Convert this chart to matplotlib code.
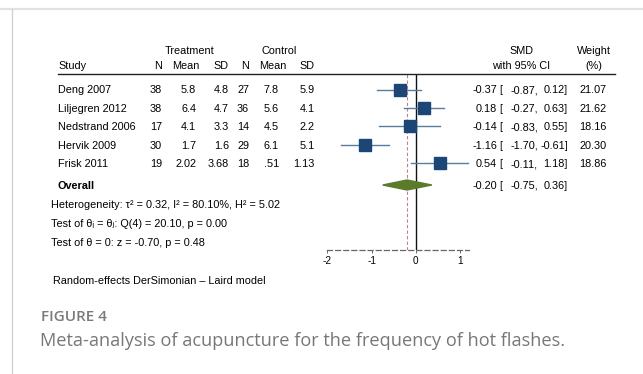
import numpy as np
import matplotlib
matplotlib.use("Agg")
import matplotlib.pyplot as plt
from matplotlib.patches import Polygon

plt.rcParams['font.family'] = ['Liberation Sans', 'DejaVu Sans']

# data
studies = ["Deng 2007", "Liljegren 2012", "Nedstrand 2006", "Hervik 2009", "Frisk 2011"]
t_n = ["38", "38", "17", "30", "19"]
t_mean = ["5.8", "6.4", "4.1", "1.7", "2.02"]
t_sd = ["4.8", "4.7", "3.3", "1.6", "3.68"]
c_n = ["27", "36", "14", "29", "18"]
c_mean = ["7.8", "5.6", "4.5", "6.1", ".51"]
c_sd = ["5.9", "4.1", "2.2", "5.1", "1.13"]
smd = [-0.37, 0.18, -0.14, -1.16, 0.54]
lo = [-0.87, -0.27, -0.83, -1.70, -0.11]
hi = [0.12, 0.63, 0.55, -0.61, 1.18]
weight = [21.07, 21.62, 18.16, 20.30, 18.86]
overall = (-0.20, -0.75, 0.36)
xticks = [-2, -1, 0, 1]

W, H = 643, 374
fig = plt.figure(figsize=(W / 100, H / 100), dpi=100)
fig.patch.set_facecolor("white")

def txt(x, y, s, **kw):
    # y is the visual centre of capitals; draw on the baseline so glyphs line up
    fs = kw.setdefault("fontsize", 7.8)
    kw.setdefault("va", "baseline")
    if kw["va"] == "baseline":
        y = y + fs * 100 / 72 * 0.716 / 2
    return fig.text(x / W, 1 - y / H, s, **kw)

# card frame
fig.add_artist(plt.Line2D([0, 1], [1 - 9 / H, 1 - 9 / H], color="#e2e2e2", lw=1.6))
fig.add_artist(plt.Line2D([12 / W, 12 / W], [0, 1 - 9 / H], color="#cfcfcf", lw=0.9))

# header
txt(190, 50, "Treatment", ha="center")
txt(279, 50, "Control", ha="center")
txt(58, 65, "Study", ha="left")
txt(162, 65, "N", ha="right")
txt(186, 65, "Mean", ha="center")
txt(228, 65, "SD", ha="right")
txt(249, 65, "N", ha="right")
txt(273, 65, "Mean", ha="center")
txt(314, 65, "SD", ha="right")
txt(521, 50, "SMD", ha="center")
txt(521, 65, "with 95% CI", ha="center")
txt(594, 50, "Weight", ha="center")
txt(594, 65, "(%)", ha="center")
fig.add_artist(plt.Line2D([58 / W, 615 / W], [1 - 74 / H, 1 - 74 / H], color="#222222", lw=1.0))

row_y = [89.5 + i * 18.45 for i in range(len(studies))]
for i, y in enumerate(row_y):
    txt(58, y, studies[i], ha="left")
    txt(162, y, t_n[i], ha="right")
    txt(196, y, t_mean[i], ha="right")
    txt(229, y, t_sd[i], ha="right")
    txt(249, y, c_n[i], ha="right")
    txt(279, y, c_mean[i], ha="right")
    txt(315, y, c_sd[i], ha="right")
    txt(497, y, f"{smd[i]:.2f}", ha="right")
    txt(499, y, "[", ha="left")
    txt(538, y, f"{lo[i]:.2f},", ha="right")
    txt(568, y, f"{hi[i]:.2f}]", ha="right")
    txt(607, y, f"{weight[i]:.2f}", ha="right")

oy = 185
txt(58, oy, "Overall", ha="left", fontweight="bold")
txt(497, oy, f"{overall[0]:.2f}", ha="right")
txt(499, oy, "[", ha="left")
txt(538, oy, f"{overall[1]:.2f},", ha="right")
txt(568, oy, f"{overall[2]:.2f}]", ha="right")

txt(51, 204, "Heterogeneity: \u03c4\u00b2 = 0.32, I\u00b2 = 80.10%, H\u00b2 = 5.02", ha="left")
txt(51, 223, "Test of \u03b8\u1d62 = \u03b8\u2c7c: Q(4) = 20.10, p = 0.00", ha="left")
txt(51, 242, "Test of \u03b8 = 0: z = -0.70, p = 0.48", ha="left")
txt(53, 280, "Random-effects DerSimonian \u2013 Laird model", ha="left")

txt(41, 316, "FIGURE 4", ha="left", fontsize=11, color="#7a7a7a", fontweight="semibold",
    family=["Open Sans", "DejaVu Sans"])
txt(40, 339, "Meta-analysis of acupuncture for the frequency of hot flashes.", ha="left",
    fontsize=13.1, color="#777777", family=["Open Sans", "DejaVu Sans"])

# forest plot axes
x0, x1 = 327.4, 469.0
ax = fig.add_axes([x0 / W, 1 - 250 / H, (x1 - x0) / W, (250 - 74) / H])
ax.set_xlim(-2, 1.2)
ax.set_ylim(250, 74)
ax.patch.set_alpha(0)
for s in ["top", "right", "left"]:
    ax.spines[s].set_visible(False)
ax.spines["bottom"].set_linestyle((0, (4, 2.5)))
ax.spines["bottom"].set_color("#666666")
ax.spines["bottom"].set_linewidth(0.9)
ax.set_yticks([])
ax.set_xticks(xticks)
ax.set_xticklabels([str(t) for t in xticks])
ax.tick_params(axis="x", length=2.5, width=0.7, color="#666666", pad=1.5, labelsize=7.2)

ax.axvline(0, color="#111111", lw=1.0, zorder=1)
ax.axvline(overall[0], color="#c77d8b", lw=0.8, ls=(0, (3, 2)), zorder=1)

for i, y in enumerate(row_y):
    ax.plot([lo[i], hi[i]], [y, y], color="#5a7c9c", lw=1.0, zorder=2, clip_on=False)
    side = 2.7 * np.sqrt(weight[i]) * 0.72
    ax.plot(smd[i], y, marker="s", ms=side, color="#1c4675", mec="#1c4675", zorder=3, clip_on=False)

dh = 5
diamond = Polygon([[overall[1], oy], [overall[0], oy - dh], [overall[2], oy], [overall[0], oy + dh]],
                  closed=True, color="#5b7a2a", zorder=3)
ax.add_patch(diamond)

fig.savefig("out.png", dpi=100)
